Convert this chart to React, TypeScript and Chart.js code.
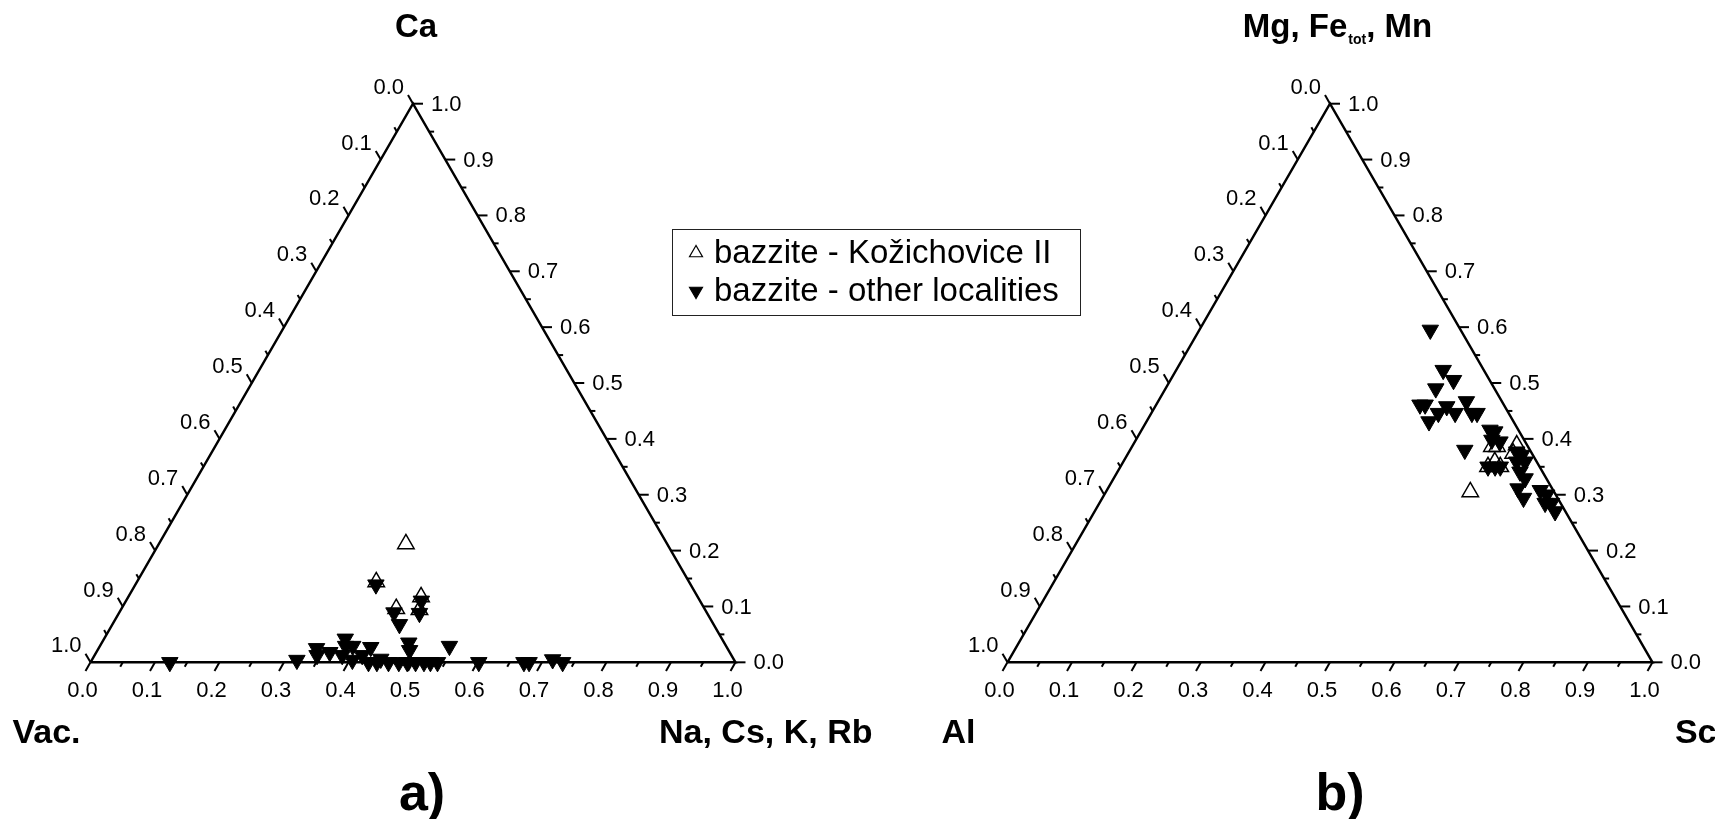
import React, { useEffect, useRef } from "react";
import { Chart, registerables } from "chart.js";

Chart.register(...registerables);

// ---------- data ----------
const TICK_STEPS = [0, 0.05, 0.1, 0.15, 0.2, 0.25, 0.3, 0.35, 0.4, 0.45, 0.5, 0.55, 0.6, 0.65, 0.7, 0.75, 0.8, 0.85, 0.9, 0.95, 1.0];
const TICK_LABELS = ["0.0", "0.1", "0.2", "0.3", "0.4", "0.5", "0.6", "0.7", "0.8", "0.9", "1.0"];

const LEGEND_LABELS = ["bazzite - Kožichovice II", "bazzite - other localities"];

// Panel a: right component = Na+Cs+K+Rb, top = Ca, left = vacancy
const A_TOP_LABEL = "Ca";
const A_LEFT_LABEL = "Vac.";
const A_RIGHT_LABEL = "Na, Cs, K, Rb";
const A_PANEL = "a)";
const aKozNa = [0.383, 0.371, 0.426, 0.454, 0.463];
const aKozCa = [0.212, 0.144, 0.096, 0.117, 0.094];
const aOthNa = [0.373, 0.426, 0.445, 0.458, 0.466, 0.123, 0.318, 0.338, 0.345, 0.362, 0.374, 0.381, 0.392, 0.384, 0.404, 0.415, 0.421, 0.431, 0.444, 0.447, 0.462, 0.478, 0.476, 0.484, 0.491, 0.504, 0.517, 0.527, 0.538, 0.542, 0.602, 0.672, 0.680, 0.714, 0.732];
const aOthCa = [0.139, 0.089, 0.068, 0.110, 0.088, 0.0, 0.004, 0.025, 0.0125, 0.018, 0.042, 0.029, 0.029, 0.0125, 0.004, 0.0125, 0.027, 0.0, 0.0, 0.006, 0.0, 0.0, 0.035, 0.0215, 0.0, 0.0, 0.0, 0.0, 0.0, 0.029, 0.0, 0.0, 0.0, 0.005, 0.0];

// Panel b: right component = Sc, top = Mg+Fe+Mn, left = Al
const B_LEFT_LABEL = "Al";
const B_RIGHT_LABEL = "Sc";
const B_PANEL = "b)";
const bKozSc = [0.558, 0.566, 0.595, 0.576, 0.570, 0.589, 0.565, 0.597];
const bKozM = [0.386, 0.386, 0.389, 0.359, 0.350, 0.350, 0.305, 0.374];
const bOthSc = [0.358, 0.414, 0.439, 0.419, 0.478, 0.417, 0.452, 0.505, 0.438, 0.445, 0.471, 0.497, 0.540, 0.549, 0.552, 0.566, 0.519, 0.601, 0.612, 0.610, 0.623, 0.624, 0.638, 0.636, 0.653, 0.672, 0.686, 0.691, 0.701, 0.714, 0.570, 0.581, 0.589, 0.409];
const bOthM = [0.595, 0.523, 0.505, 0.490, 0.467, 0.461, 0.458, 0.446, 0.431, 0.446, 0.446, 0.446, 0.416, 0.413, 0.398, 0.395, 0.380, 0.377, 0.371, 0.359, 0.359, 0.341, 0.329, 0.311, 0.294, 0.308, 0.300, 0.285, 0.285, 0.270, 0.350, 0.350, 0.350, 0.461];

// ternary vertices as compositions [right, top]
const VERT_RIGHT = [0, 1, 0, 0];
const VERT_TOP = [0, 0, 1, 0];

// ---------- layout (data space) ----------
const SQ3 = Math.sqrt(3);
const PANEL_B_OFFSET = 1.4217;
const X_MIN = -0.1403;
const X_MAX = 2.5186;
const Y_MIN = -0.2429;
const Y_MAX = 1.0268;

const toXY = (right: number, top: number, off: number) => ({ x: off + right + top / 2, y: (top * SQ3) / 2 });

const FONT = "'Liberation Sans', Arial, sans-serif";

const decorPlugin = {
  id: "ternaryDecor",
  beforeDatasetsDraw(chart: any) {
    const ctx = chart.ctx;
    const sx = chart.scales.x;
    const sy = chart.scales.y;
    const pix = (p: { x: number; y: number }) => ({ x: sx.getPixelForValue(p.x), y: sy.getPixelForValue(p.y) });
    ctx.save();
    ctx.strokeStyle = "#000";
    ctx.fillStyle = "#000";
    ctx.lineWidth = 2;
    ctx.font = `22px ${FONT}`;
    const c60 = 0.5, s60 = SQ3 / 2;
    for (const off of [0, PANEL_B_OFFSET]) {
      TICK_STEPS.forEach((t) => {
        const k = Math.round(t * 20);
        const major = k % 2 === 0;
        const L = major ? 10 : 5;
        const lab = major ? TICK_LABELS[k / 2] : null;
        // bottom axis (right component)
        let p = pix(toXY(t, 0, off));
        let ex = p.x - c60 * L, ey = p.y + s60 * L;
        ctx.beginPath(); ctx.moveTo(p.x, p.y); ctx.lineTo(ex, ey); ctx.stroke();
        if (lab) {
          ctx.textAlign = "center"; ctx.textBaseline = "middle";
          ctx.fillText(lab, p.x - 8, p.y + 29);
        }
        // right axis (top component)
        p = pix(toXY(1 - t, t, off));
        ex = p.x + L; ey = p.y;
        ctx.beginPath(); ctx.moveTo(p.x, p.y); ctx.lineTo(ex, ey); ctx.stroke();
        if (lab) {
          ctx.textAlign = "left"; ctx.textBaseline = "middle";
          ctx.fillText(lab, p.x + 18, p.y + 1);
        }
        // left axis (left component, 0 at top)
        p = pix(toXY(0, 1 - t, off));
        ex = p.x - c60 * L; ey = p.y - s60 * L;
        ctx.beginPath(); ctx.moveTo(p.x, p.y); ctx.lineTo(ex, ey); ctx.stroke();
        if (lab) {
          ctx.textAlign = "right"; ctx.textBaseline = "middle";
          ctx.fillText(lab, p.x - 9, p.y - 16);
        }
      });
    }
    ctx.restore();
  },
  afterDatasetsDraw(chart: any) {
    const ctx = chart.ctx;
    const sx = chart.scales.x;
    const sy = chart.scales.y;
    const pix = (p: { x: number; y: number }) => ({ x: sx.getPixelForValue(p.x), y: sy.getPixelForValue(p.y) });
    ctx.save();
    ctx.fillStyle = "#000";
    ctx.textBaseline = "alphabetic";
    // titles
    const topA = pix(toXY(0, 1, 0));
    const topB = pix(toXY(0, 1, PANEL_B_OFFSET));
    ctx.font = `bold 33px ${FONT}`;
    ctx.textAlign = "center";
    ctx.fillText(A_TOP_LABEL, topA.x + 3, 37);
    // Mg, Fe_tot, Mn
    const p1 = "Mg, Fe", sub = "tot", p2 = ", Mn";
    ctx.font = `bold 33px ${FONT}`;
    const w1 = ctx.measureText(p1).width;
    const w2 = ctx.measureText(p2).width;
    ctx.font = `bold 14px ${FONT}`;
    const ws = ctx.measureText(sub).width;
    let x0 = topB.x + 7 - (w1 + ws + w2) / 2;
    ctx.textAlign = "left";
    ctx.font = `bold 33px ${FONT}`;
    ctx.fillText(p1, x0, 37);
    ctx.font = `bold 14px ${FONT}`;
    ctx.fillText(sub, x0 + w1 + 1, 44);
    ctx.font = `bold 33px ${FONT}`;
    ctx.fillText(p2, x0 + w1 + ws + 1, 37);
    // corner labels
    const blA = pix(toXY(0, 0, 0));
    const brA = pix(toXY(1, 0, 0));
    const blB = pix(toXY(0, 0, PANEL_B_OFFSET));
    const brB = pix(toXY(1, 0, PANEL_B_OFFSET));
    ctx.font = `bold 34px ${FONT}`;
    ctx.textAlign = "left";
    ctx.fillText(A_LEFT_LABEL, blA.x - 78, 743);
    ctx.fillText(B_LEFT_LABEL, blB.x - 66, 743);
    ctx.textAlign = "right";
    ctx.fillText(A_RIGHT_LABEL, brA.x + 137, 743);
    ctx.fillText(B_RIGHT_LABEL, brB.x + 64, 743);
    // panel letters
    ctx.font = `bold 52px ${FONT}`;
    ctx.textAlign = "center";
    ctx.fillText(A_PANEL, topA.x + 9, 810);
    ctx.fillText(B_PANEL, topB.x + 10, 810);
    // legend
    const lx = 672, ly = 229, lw = 408, lh = 86;
    ctx.fillStyle = "#fff";
    ctx.fillRect(lx, ly, lw, lh);
    ctx.strokeStyle = "#222";
    ctx.lineWidth = 1;
    ctx.strokeRect(lx + 0.5, ly + 0.5, lw, lh);
    const rows = [
      { y: ly + 24, fill: false },
      { y: ly + 62, fill: true },
    ];
    rows.forEach((r, i) => {
      const cx = lx + 24;
      const rad = 7.5;
      ctx.beginPath();
      if (r.fill) {
        ctx.moveTo(cx, r.y + rad);
        ctx.lineTo(cx - rad * SQ3 / 2, r.y - rad / 2);
        ctx.lineTo(cx + rad * SQ3 / 2, r.y - rad / 2);
      } else {
        ctx.moveTo(cx, r.y - rad);
        ctx.lineTo(cx - rad * SQ3 / 2, r.y + rad / 2);
        ctx.lineTo(cx + rad * SQ3 / 2, r.y + rad / 2);
      }
      ctx.closePath();
      if (r.fill) { ctx.fillStyle = "#000"; ctx.fill(); }
      ctx.strokeStyle = "#000"; ctx.lineWidth = 1.2; ctx.stroke();
      ctx.fillStyle = "#000";
      ctx.font = `33px ${FONT}`;
      ctx.textAlign = "left";
      ctx.textBaseline = "middle";
      ctx.fillText(LEGEND_LABELS[i], lx + 42, r.y + 1);
    });
    ctx.restore();
  },
};

export default function App() {
  const ref = useRef<HTMLCanvasElement | null>(null);
  useEffect(() => {
    if (!ref.current) return;
    const frame = (off: number) => VERT_RIGHT.map((r, i) => toXY(r, VERT_TOP[i], off));
    const pts = (right: number[], top: number[], off: number) => right.map((r, i) => toXY(r, top[i], off));
    const openStyle = {
      pointStyle: "triangle",
      rotation: 0,
      pointRadius: 9.5,
      pointBackgroundColor: "rgba(0,0,0,0)",
      pointBorderColor: "#000",
      pointBorderWidth: 1.5,
      showLine: false,
      order: 0,
    };
    const filledStyle = {
      pointStyle: "triangle",
      rotation: 180,
      pointRadius: 9.5,
      pointBackgroundColor: "#000",
      pointBorderColor: "#000",
      pointBorderWidth: 1,
      showLine: false,
      order: 1,
    };
    const lineStyle = {
      showLine: true,
      borderColor: "#000",
      borderWidth: 2.4,
      pointRadius: 0,
      fill: false,
      order: 2,
    };
    const chart = new Chart(ref.current, {
      type: "scatter",
      data: {
        datasets: [
          { label: "frame a", data: frame(0), ...lineStyle } as any,
          { label: "frame b", data: frame(PANEL_B_OFFSET), ...lineStyle } as any,
          { label: LEGEND_LABELS[1], data: pts(aOthNa, aOthCa, 0), ...filledStyle } as any,
          { label: LEGEND_LABELS[1], data: pts(bOthSc, bOthM, PANEL_B_OFFSET), ...filledStyle } as any,
          { label: LEGEND_LABELS[0], data: pts(aKozNa, aKozCa, 0), ...openStyle } as any,
          { label: LEGEND_LABELS[0], data: pts(bKozSc, bKozM, PANEL_B_OFFSET), ...openStyle } as any,
        ],
      },
      options: {
        animation: false,
        responsive: true,
        maintainAspectRatio: false,
        events: [],
        layout: { padding: 0, autoPadding: false },
        plugins: { legend: { display: false }, tooltip: { enabled: false }, title: { display: false } },
        scales: {
          x: { type: "linear", display: false, min: X_MIN, max: X_MAX },
          y: { type: "linear", display: false, min: Y_MIN, max: Y_MAX },
        },
      },
      plugins: [decorPlugin],
    } as any);
    return () => chart.destroy();
  }, []);
  return (
    <div style={{ position: "fixed", left: 0, top: 0, width: 1715, height: 819, background: "#fff" }}>
      <canvas ref={ref} />
    </div>
  );
}
